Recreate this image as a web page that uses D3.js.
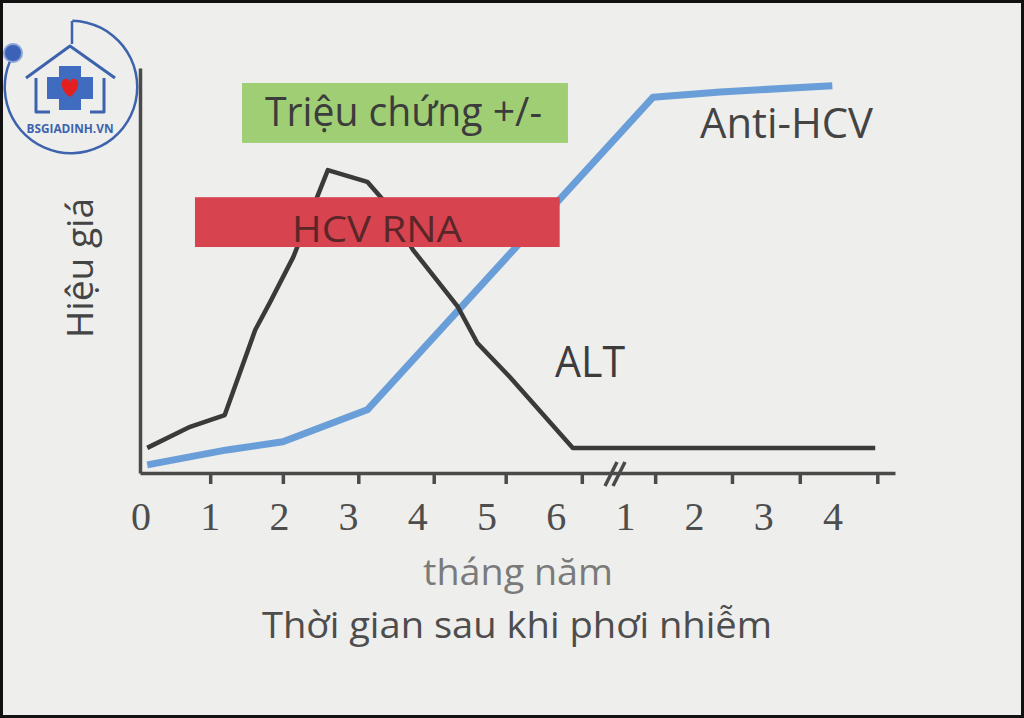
<!DOCTYPE html>
<html>
<head>
<meta charset="utf-8">
<script src="https://cdn.jsdelivr.net/npm/d3@7"></script>
<style>
  html, body { margin: 0; padding: 0; background: #eeeeec; }
  svg { display: block; }
</style>
</head>
<body>
<div class="chart"></div>
<script>
// du lieu doc tu hinh (don vi truc x: 0..6 thang, 7..10 = 1..4 nam)
var xLabels = ["0", "1", "2", "3", "4", "5", "6", "1", "2", "3", "4"];
var tickPos = [1, 2.05, 3.14, 4.23, 5.27, 6.37, 7.43, 8.54, 9.52, 10.64];
var breakPos = 6.85;

var altX = [0.09, 0.71, 1.21, 1.65, 1.86, 2.20, 2.70, 3.27, 3.50, 3.93, 4.58, 4.86, 5.33, 6.24, 10.61];
var altY = [6.2, 11.4, 14.3, 35.3, 42.0, 53.3, 74.8, 71.9, 67.4, 55.1, 41.0, 32.1, 23.7, 6.2, 6.2];

var antiX = [0.09, 1.24, 2.05, 3.27, 7.40, 8.37, 9.99];
var antiY = [2.0, 5.7, 7.7, 15.6, 92.8, 94.1, 95.6];

var bandLabels = ["Triệu chứng +/-", "HCV RNA"];
var bandStart = [1.46, 0.78];
var bandEnd = [6.17, 6.05];
var bandLow = [81.5, 55.8];
var bandHigh = [96.3, 68.1];

var W = 1024, H = 718;
var markerFont = "'Open Sans', 'Noto Sans', sans-serif";

var svg = d3.select(".chart").append("svg")
  .attr("width", W)
  .attr("height", H);

svg.append("rect")
  .attr("x", 1.5).attr("y", 1.5)
  .attr("width", W - 3).attr("height", H - 3)
  .attr("fill", "#eeeeec")
  .attr("stroke", "#111")
  .attr("stroke-width", 3);

// thang do
var xScale = d3.scaleLinear().domain([0, 10]).range([141, 833]);
var yScale = d3.scaleLinear().domain([0, 100]).range([473, 68]);
var xAxisScale = d3.scaleLinear()
  .domain([xScale.invert(140), xScale.invert(895)])
  .range([140, 895]);

// truc x
var xAxis = svg.append("g")
  .attr("transform", "translate(0," + yScale(0) + ")")
  .call(d3.axisBottom(xAxisScale).tickValues(tickPos).tickFormat("").tickSize(11).tickSizeOuter(0));
xAxis.select(".domain").attr("stroke", "#4a4a4a").attr("stroke-width", 3.5);
xAxis.selectAll(".tick line").attr("stroke", "#4a4a4a").attr("stroke-width", 3.5);

// dau gach ngang //
[-4, 4].forEach(function (off) {
  svg.append("line")
    .attr("x1", xScale(breakPos) + off - 6).attr("y1", yScale(0) + 13)
    .attr("x2", xScale(breakPos) + off + 6).attr("y2", yScale(0) - 11)
    .attr("stroke", "#4a4a4a")
    .attr("stroke-width", 3.5);
});

// truc y
var yAxis = svg.append("g")
  .attr("transform", "translate(140,0)")
  .call(d3.axisLeft(yScale).ticks(0).tickSizeOuter(0));
yAxis.select(".domain").attr("stroke", "#4a4a4a").attr("stroke-width", 3.5);

// nhan truc x
svg.selectAll(".xlabel")
  .data(xLabels)
  .enter()
  .append("text")
  .attr("class", "xlabel")
  .text(function (d) { return d; })
  .attr("x", function (d, i) { return xScale(i); })
  .attr("y", 530)
  .attr("text-anchor", "middle")
  .attr("font-family", "'Liberation Serif', 'DejaVu Serif', serif")
  .attr("font-size", "40px")
  .attr("fill", "#4d4d4d");

// duong
var line = d3.line()
  .x(function (d) { return xScale(d[0]); })
  .y(function (d) { return yScale(d[1]); });

svg.append("path")
  .datum(d3.zip(antiX, antiY))
  .attr("d", line)
  .attr("fill", "none")
  .attr("stroke", "#6a9ed8")
  .attr("stroke-width", 7)
  .attr("stroke-linejoin", "round");

svg.append("path")
  .datum(d3.zip(altX, altY))
  .attr("d", line)
  .attr("fill", "none")
  .attr("stroke", "#3a3a3a")
  .attr("stroke-width", 4.5)
  .attr("stroke-linejoin", "round");

// hop
var bandFill = ["#a0ce74", "#d7434f"];
var bandText = ["#3c3c3c", "#5a2628"];
var bandTextLen = [277, 170];
var bandFont = [40, 36];

svg.selectAll(".band")
  .data(bandLabels)
  .enter()
  .append("rect")
  .attr("class", "band")
  .attr("x", function (d, i) { return xScale(bandStart[i]); })
  .attr("y", function (d, i) { return yScale(bandHigh[i]); })
  .attr("width", function (d, i) { return xScale(bandEnd[i]) - xScale(bandStart[i]); })
  .attr("height", function (d, i) { return yScale(bandLow[i]) - yScale(bandHigh[i]); })
  .attr("fill", function (d, i) { return bandFill[i]; });

svg.selectAll(".bandlabel")
  .data(bandLabels)
  .enter()
  .append("text")
  .attr("class", "bandlabel")
  .text(function (d) { return d; })
  .attr("x", function (d, i) { return i === 0 ? 265 : 292; })
  .attr("y", function (d, i) { return i === 0 ? 126 : 242; })
  .attr("textLength", function (d, i) { return bandTextLen[i]; })
  .attr("lengthAdjust", "spacingAndGlyphs")
  .attr("font-family", markerFont)
  .attr("font-size", function (d, i) { return bandFont[i] + "px"; })
  .attr("fill", function (d, i) { return bandText[i]; });

// nhan duong
function label(txt, x, y, size, len, color) {
  return svg.append("text")
    .text(txt)
    .attr("x", x).attr("y", y)
    .attr("textLength", len)
    .attr("lengthAdjust", "spacingAndGlyphs")
    .attr("font-family", markerFont)
    .attr("font-size", size + "px")
    .attr("fill", color);
}
label("Anti-HCV", 700, 138, 42, 173, "#444");
label("ALT", 555, 377, 44, 70, "#3c3c3c");
label("tháng năm", 423, 585, 36, 190, "#7a7a7a");
label("Thời gian sau khi phơi nhiễm", 262, 638, 36, 510, "#4d4d4d");

svg.append("text")
  .text("Hiệu giá")
  .attr("transform", "translate(93,268) rotate(-90)")
  .attr("text-anchor", "middle")
  .attr("textLength", 140)
  .attr("lengthAdjust", "spacingAndGlyphs")
  .attr("font-family", markerFont)
  .attr("font-size", "36px")
  .attr("fill", "#444");

// logo
var logo = svg.append("g");
var blue = "#3d63ad";
var arc = d3.arc()
  .innerRadius(65)
  .outerRadius(67.5)
  .startAngle(0.02)
  .endAngle(2 * Math.PI - 0.95);
logo.append("path")
  .attr("d", arc)
  .attr("transform", "translate(71,87)")
  .attr("fill", blue);
logo.append("line")
  .attr("x1", 72).attr("y1", 21).attr("x2", 72).attr("y2", 44)
  .attr("stroke", blue).attr("stroke-width", 2.5);
logo.append("circle")
  .attr("cx", 13).attr("cy", 53).attr("r", 9)
  .attr("fill", "#3b62b6")
  .attr("stroke", "#8aa4d8")
  .attr("stroke-width", 2);
logo.append("path")
  .attr("d", "M26,78 L70,46 L115,78 M36,78 L36,112 L50,112 M104,78 L104,112 L90,112")
  .attr("fill", "none")
  .attr("stroke", blue)
  .attr("stroke-width", 3)
  .attr("stroke-linejoin", "round");
logo.append("path")
  .attr("d", "M59,66 H81 V77 H93 V99 H81 V110 H59 V99 H47 V77 H59 Z")
  .attr("fill", "#3f6cbf");
logo.append("path")
  .attr("d", "M70,97 C60,90 60,80 65,79 C68,78 70,81 70,83 C70,81 72,78 75,79 C80,80 80,90 70,97 Z")
  .attr("fill", "#e3201f");
logo.append("text")
  .text("BSGIADINH.VN")
  .attr("x", 70).attr("y", 133)
  .attr("text-anchor", "middle")
  .attr("textLength", 87)
  .attr("lengthAdjust", "spacingAndGlyphs")
  .attr("font-family", "'Open Sans', sans-serif")
  .attr("font-weight", "bold")
  .attr("font-size", "12px")
  .attr("fill", blue);
</script>
</body>
</html>
